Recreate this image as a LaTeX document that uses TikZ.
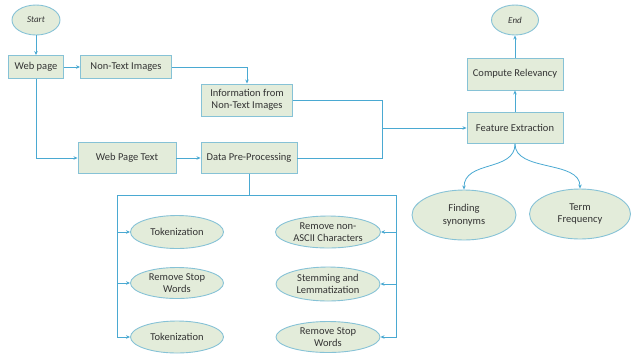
\documentclass[tikz,border=0pt]{standalone}
\usepackage{fontspec}
\setmainfont{Carlito}
\usetikzlibrary{shapes.geometric,arrows.meta}
\definecolor{boxfill}{HTML}{E3ECDA}
\definecolor{boxline}{HTML}{86C2D6}
\definecolor{conn}{HTML}{4AA9D2}
\definecolor{txt}{HTML}{333333}
\tikzset{
  rbox/.style={draw=boxline,fill=boxfill,line width=0.9pt,minimum height=#1,inner sep=1pt,align=center,font=\fontsize{10.5}{12.5}\selectfont,text=txt},
  oval/.style={ellipse,draw=boxline,fill=boxfill,line width=0.9pt,inner sep=0pt,align=center,font=\fontsize{10.5}{12.5}\selectfont,text=txt},
  conn/.style={draw=conn,line width=0.8pt,-{Stealth[length=4pt,width=3.5pt]}},
  plain/.style={draw=conn,line width=0.8pt},
}
\begin{document}
\begin{tikzpicture}[x=1pt,y=-1pt]
\useasboundingbox (0,0) rectangle (631,357);
% nodes
\node[oval,minimum width=48,minimum height=30,font=\fontsize{9}{10}\selectfont\itshape] (start) at (36,20) {Start};
\node[rbox=23,minimum width=55] (web) at (36,67) {Web page};
\node[rbox=23,minimum width=91] (nti) at (126,67) {Non-Text Images};
\node[rbox=32,minimum width=91] (info) at (247,100) {Information from\\Non-Text Images};
\node[rbox=31,minimum width=98] (wpt) at (127,158) {Web Page Text};
\node[rbox=31,minimum width=96] (dpp) at (249,158) {Data Pre-Processing};
\node[oval,minimum width=47,minimum height=30,font=\fontsize{9}{10}\selectfont\itshape] (end) at (515,20) {End};
\node[rbox=32,minimum width=96] (cr) at (515,74) {Compute Relevancy};
\node[rbox=31,minimum width=96] (fe) at (515,128) {Feature Extraction};
\node[oval,minimum width=104,minimum height=50] (syn) at (464,215) {Finding\\synonyms};
\node[oval,minimum width=101,minimum height=50] (tf) at (580,214) {Term\\Frequency};
\node[oval,minimum width=93,minimum height=33] (tok1) at (177,232) {Tokenization};
\node[oval,minimum width=93,minimum height=31] (rsw1) at (177,283) {Remove Stop\\Words};
\node[oval,minimum width=93,minimum height=32] (tok2) at (177,337) {Tokenization};
\node[oval,minimum width=105,minimum height=32] (rna) at (328,232) {Remove non-\\ASCII Characters};
\node[oval,minimum width=104,minimum height=34] (stem) at (328,284) {Stemming and\\Lemmatization};
\node[oval,minimum width=104,minimum height=31] (rsw2) at (328,337) {Remove Stop\\Words};
% junction coordinates
\coordinate (jx) at (382,128);
\coordinate (split) at (249,195);
\coordinate (sl) at (117,195);
\coordinate (sr) at (396,195);
% connectors
\draw[conn] (start) -- (web);
\draw[conn] (web) -- (nti);
\draw[conn] (nti.east) -| (info.north);
\draw[conn] (web.south) |- (wpt.west);
\draw[conn] (wpt) -- (dpp);
\draw[plain] (info.east) -| (jx);
\draw[plain] (dpp.east) -| (jx);
\draw[conn] (jx) -- (fe.west);
\draw[conn] (fe) -- (cr);
\draw[conn] (cr) -- (end);
\draw[conn] (fe.south) .. controls (515,172) and (464,160) .. (syn.north);
\draw[conn] (fe.south) .. controls (515,172) and (580,160) .. (tf.north);
\draw[plain] (dpp.south) -- (split);
\draw[plain] (sl) -- (sr);
\draw[conn] (sl) |- (tok1.west);
\draw[conn] (sl) |- (rsw1.west);
\draw[conn] (sl) |- (tok2.west);
\draw[conn] (sr) |- (rna.east);
\draw[conn] (sr) |- (stem.east);
\draw[conn] (sr) |- (rsw2.east);
\end{tikzpicture}
\end{document}
